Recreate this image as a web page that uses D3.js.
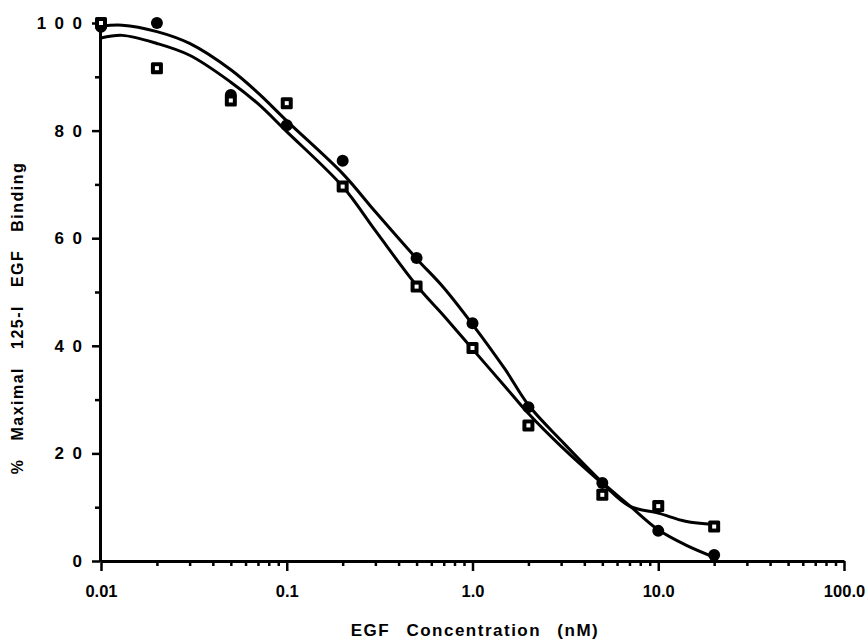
<!DOCTYPE html>
<html>
<head>
<meta charset="utf-8">
<script src="https://cdn.jsdelivr.net/npm/d3@7"></script>
<style>
  body { margin: 0; background: #fff; }
  text { font-family: "Liberation Sans", Arial, sans-serif; font-weight: bold; fill: #000; }
</style>
</head>
<body>
<svg width="868" height="643"></svg>
<script>
// measured points
const conc = [0.01, 0.02, 0.05, 0.1, 0.2, 0.5, 1, 2, 5, 10, 20];
const filledVals = [99.3, 100, 86.6, 81, 74.4, 56.3, 44.2, 28.6, 14.5, 5.6, 1.1];
const openVals = [100, 91.6, 85.6, 85.1, 69.6, 51, 39.6, 25.2, 12.3, 10.2, 6.4];

// fitted curves
const fitConc = [0.01, 0.013, 0.02, 0.03, 0.05, 0.07, 0.1, 0.2, 0.3, 0.5, 0.7, 1, 1.5, 2, 3, 5, 7, 10, 14, 20];
const filledFit = [99.4, 99.6, 98.4, 96.2, 91.3, 87.0, 81.8, 72.0, 64.9, 56.2, 50.8, 44.0, 35.6, 29.0, 22.4, 14.6, 10.3, 5.8, 3.0, 0.7];
const openFit = [97.2, 97.7, 96.2, 94.0, 89.0, 85.0, 79.8, 69.6, 61.4, 51.2, 45.6, 39.4, 32.4, 27.4, 21.3, 14.4, 10.2, 8.9, 7.4, 6.8];

// ticks
const xMajor = [0.01, 0.1, 1, 10, 100];
const xLabels = ['0.01', '0.1', '1.0', '10.0', '100.0'];
const yMajor = [0, 20, 40, 60, 80, 100];
const yMinor = [10, 30, 50, 70, 90];

const svg = d3.select('svg');

const x = d3.scaleLog().domain([0.01, 100]).range([101, 844]);
const y = d3.scaleLinear().domain([0, 100]).range([561, 23]);

// minor x ticks 2..9 of each decade
const xMinor = [];
[0.01, 0.1, 1, 10].forEach((d) => {
  for (let k = 2; k <= 9; k++) xMinor.push(d * k);
});

// x axis
const xAxis = svg.append('g').attr('transform', 'translate(0,561)');
xAxis.call(
  d3.axisBottom(x).tickValues(xMajor).tickSize(10).tickSizeOuter(0).tickPadding(14)
    .tickFormat((d, i) => xLabels[i])
);
xAxis.append('g').call(
  d3.axisBottom(x).tickValues(xMinor).tickSize(5).tickSizeOuter(0).tickFormat('')
).select('.domain').remove();
xAxis.select('.domain').attr('stroke-width', 3);
xAxis.selectAll('.tick line').attr('stroke-width', 2.5);
xAxis.selectAll('.tick text').attr('font-size', 16.5);

// y axis, digits spread apart like the original
const yAxis = svg.append('g').attr('transform', 'translate(100,0)');
yAxis.call(
  d3.axisLeft(y).tickValues(yMajor).tickSize(8).tickSizeOuter(0).tickPadding(10)
    .tickFormat((d) => String(d).split('').join('\u2002'))
);
yAxis.append('g').call(
  d3.axisLeft(y).tickValues(yMinor).tickSize(5).tickSizeOuter(0).tickFormat('')
).select('.domain').remove();
yAxis.select('.domain').attr('stroke-width', 3);
yAxis.selectAll('.tick line').attr('stroke-width', 2.5);
yAxis.selectAll('.tick text').attr('font-size', 17);

// curves
const line = d3.line()
  .x((d) => x(d[0]))
  .y((d) => y(d[1]))
  .curve(d3.curveCatmullRom.alpha(0.5));

[filledFit, openFit].forEach((vals) => {
  svg.append('path')
    .datum(fitConc.map((c, i) => [c, vals[i]]))
    .attr('d', line)
    .attr('fill', 'none')
    .attr('stroke', '#000')
    .attr('stroke-width', 3);
});

// filled markers
svg.selectAll('circle.filled')
  .data(conc.map((c, i) => [c, filledVals[i]]))
  .enter()
  .append('circle')
  .attr('class', 'filled')
  .attr('cx', (d) => x(d[0]))
  .attr('cy', (d) => y(d[1]))
  .attr('r', 6)
  .attr('fill', '#000');

// open squares
const sq = svg.selectAll('g.open')
  .data(conc.map((c, i) => [c, openVals[i]]))
  .enter()
  .append('g')
  .attr('class', 'open')
  .attr('transform', (d) => `translate(${x(d[0])},${y(d[1])})`);
sq.append('rect')
  .attr('x', -6).attr('y', -6).attr('width', 12).attr('height', 12)
  .attr('rx', 1.5).attr('fill', '#000');
sq.append('rect')
  .attr('x', -2).attr('y', -2).attr('width', 4).attr('height', 4)
  .attr('fill', '#fff');

// axis titles
svg.append('text')
  .attr('x', 475)
  .attr('y', 636)
  .attr('text-anchor', 'middle')
  .attr('font-size', 17)
  .attr('letter-spacing', 1.5)
  .attr('word-spacing', 10)
  .text('EGF Concentration (nM)');

svg.append('text')
  .attr('transform', 'translate(23,318) rotate(-90)')
  .attr('text-anchor', 'middle')
  .attr('font-size', 16)
  .attr('letter-spacing', 1.5)
  .attr('word-spacing', 12)
  .text('% Maximal 125-I EGF Binding');
</script>
</body>
</html>
